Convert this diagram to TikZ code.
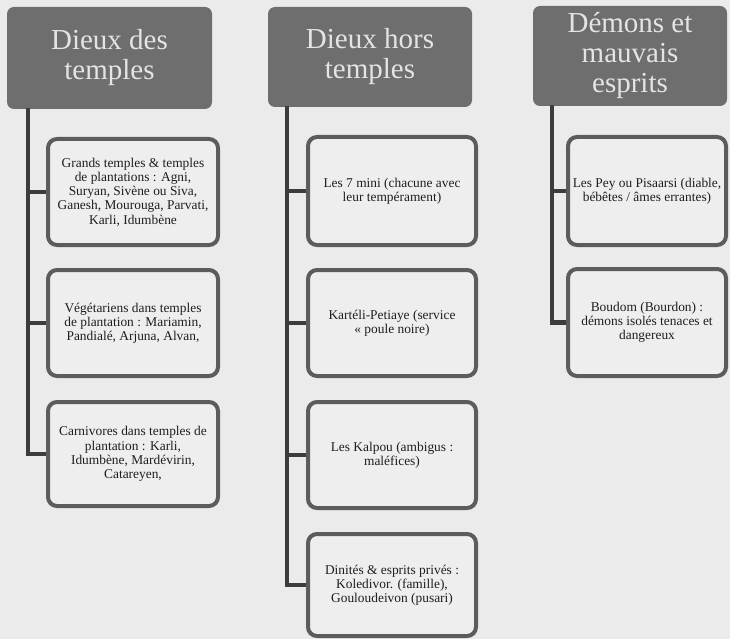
\documentclass[tikz,border=0pt]{standalone}
\usepackage{fontspec}
\setmainfont{Liberation Serif}
\definecolor{bgc}{HTML}{EBEBEB}
\definecolor{headc}{HTML}{6E6E6E}
\definecolor{headt}{HTML}{E4E4E4}
\definecolor{boxc}{HTML}{EEEEEE}
\definecolor{boxd}{HTML}{5C5C5C}
\definecolor{linec}{HTML}{3C3C3C}
\definecolor{textc}{HTML}{1E1E1E}
\begin{document}
\begin{tikzpicture}[x=1pt,y=-1pt,
  header/.style={fill=headc, rounded corners=7pt, text=headt, align=center,
    font=\fontsize{29}{30}\selectfont, inner sep=0pt},
  itembox/.style={fill=boxc, draw=boxd, line width=4pt, rounded corners=9pt,
    text=textc, align=center, font=\fontsize{13.4}{14.2}\selectfont, inner sep=0pt},
  conn/.style={draw=linec, line width=4.5pt}]
\useasboundingbox[fill=bgc] (0,0) rectangle (730,639);
% headers
\node[header, minimum width=205pt, minimum height=102pt] (h1) at (109.5,58) {Dieux des\\temples};
\node[header, minimum width=204pt, minimum height=100pt] (h2) at (370,57) {Dieux hors\\temples};
\node[header, minimum width=194pt, minimum height=100pt] (h3) at (630,56) {Démons et\\mauvais\\esprits};
\coordinate (v1) at (28,108);
\coordinate (v2) at (287,106);
\coordinate (v3) at (552,105);
% column 1
\node[itembox, minimum width=170pt, minimum height=106pt] (a1) at (133,192) {Grands temples \& temples\\de plantations : Agni,\\Suryan, Sivène ou Siva,\\Ganesh, Mourouga, Parvati,\\Karli, Idumbène};
\node[itembox, minimum width=170pt, minimum height=106pt] (a2) at (133,323) {Végétariens dans temples\\de plantation : Mariamin,\\Pandialé, Arjuna, Alvan,};
\node[itembox, minimum width=170pt, minimum height=104pt] (a3) at (133,454) {Carnivores dans temples de\\plantation : Karli,\\Idumbène, Mardévirin,\\Catareyen,};
% column 2
\node[itembox, minimum width=168pt, minimum height=108pt] (b1) at (392,191) {Les 7 mini (chacune avec\\leur tempérament)};
\node[itembox, minimum width=168pt, minimum height=106pt] (b2) at (392,323) {Kartéli-Petiaye (service\\« poule noire)};
\node[itembox, minimum width=168pt, minimum height=106pt] (b3) at (392,455) {Les Kalpou (ambigus :\\maléfices)};
\node[itembox, minimum width=168pt, minimum height=102pt] (b4) at (392,585) {Dinités \& esprits privés :\\Koledivor. (famille),\\Gouloudeivon (pusari)};
% column 3
\node[itembox, minimum width=158pt, minimum height=108pt] (c1) at (647,191) {Les Pey ou Pisaarsi (diable,\\bébêtes / âmes errantes)};
\node[itembox, minimum width=158pt, minimum height=107pt] (c2) at (647,322.5) {Boudom (Bourdon) :\\démons isolés tenaces et\\dangereux};
% connectors
\foreach \b in {a1,a2,a3} \draw[conn] (v1) |- (\b.west);
\foreach \b in {b1,b2,b3,b4} \draw[conn] (v2) |- (\b.west);
\foreach \b in {c1,c2} \draw[conn] (v3) |- (\b.west);
\end{tikzpicture}
\end{document}
